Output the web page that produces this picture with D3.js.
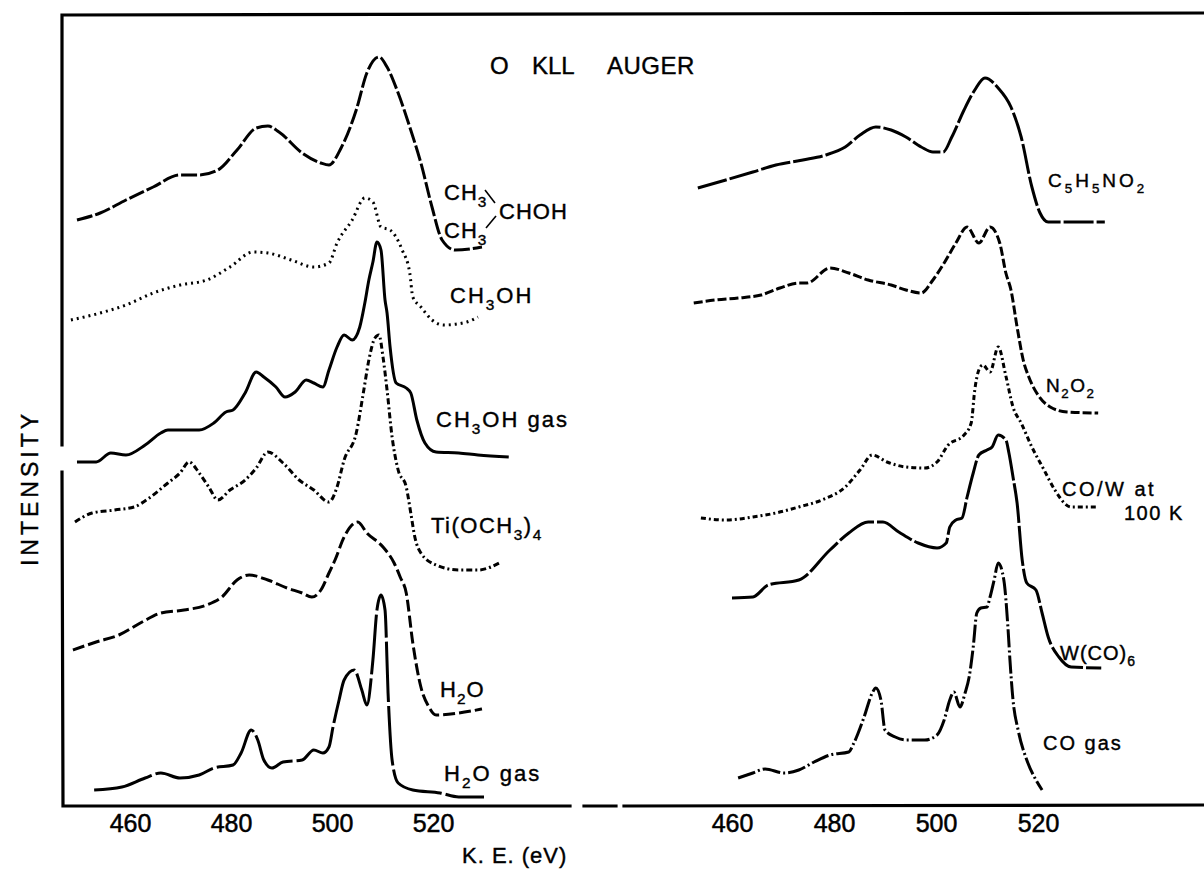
<!DOCTYPE html>
<html><head><meta charset="utf-8">
<script src="https://cdn.jsdelivr.net/npm/d3@7"></script>
<style>body{margin:0;background:#fff}svg{display:block}</style>
</head><body>
<svg id="c" width="1204" height="870"></svg>
<script>
// ---- tick labels ----
const tickValsLeft = [460, 480, 500, 520];
const tickValsRight = [460, 480, 500, 520];

// ---- spectra (kinetic energy eV, intensity arb. units incl. vertical offset) ----
const ipaE = [449.5,454.1,459.2,464.6,469.9,473.7,477.4,481.2,485.0,487.3,489.5,494.1,497.8,499.4,501.8,504.8,506.9,509.3,510.9,513.1,515.4,517.6,519.8,521.8,524.4,529.7];
const ipaI = [586,593,606,619,631,631,636,656,678,680,674,653,643,641,658,696,733,749,739,713,679,643,599,566,556,559];

const meohE = [448.3,454.1,459.2,464.6,469.9,475.2,479.8,484.4,487.3,491.9,496.4,499.4,501.0,504.0,506.5,508.1,509.7,511.5,513.9,515.4,516.0,517.6,519.8,522.2,526.7,528.9];
const meohI = [486,493,501,513,521,526,539,554,553,546,539,543,563,586,608,604,579,576,556,533,509,499,486,481,484,489];

const meohGasE = [449.5,453.3,456.2,459.2,463.0,466.1,467.5,473.7,476.6,479.0,480.4,482.8,485.0,486.5,488.9,490.7,492.7,494.9,496.4,498.2,499.4,501.0,502.4,504.0,505.5,506.5,507.3,508.1,508.9,509.7,510.5,510.9,511.5,512.7,514.7,515.6,516.8,518.4,520.6,525.1,528.9,535.0];
const meohGasI = [344,344,353,351,361,373,376,376,383,394,396,413,434,429,419,409,414,426,423,419,436,459,471,466,479,503,526,544,564,556,506,493,459,423,418,413,386,363,354,353,351,349];

const tiE = [449.1,452.5,457.0,460.8,463.8,467.5,469.9,471.7,473.7,475.6,477.4,479.8,482.8,485.0,487.3,490.3,493.5,496.4,499.4,501.0,502.4,504.8,506.3,507.3,508.5,509.3,510.1,510.9,511.9,513.1,514.7,515.6,516.4,517.6,520.6,525.1,528.9,533.5];
const tiI = [284,293,296,299,308,323,333,344,333,319,306,316,326,338,354,343,326,316,304,319,346,373,416,446,468,471,449,416,369,336,319,293,269,253,241,236,236,244];

const h2oE = [448.7,453.3,457.8,462.4,466.1,470.7,475.2,478.2,481.2,483.6,487.3,491.1,494.1,496.0,497.8,499.4,500.6,502.4,505.1,506.9,510.1,512.3,513.5,514.7,516.0,517.6,519.2,520.6,525.1,529.7];
const h2oI = [156,164,171,184,193,196,201,209,226,231,226,218,213,209,216,233,246,269,284,273,259,243,229,213,163,119,99,91,93,97];

const h2oGasE = [452.9,458.4,463.0,466.1,469.9,473.7,476.6,480.4,482.0,484.0,485.3,486.5,488.1,490.3,494.1,496.4,498.2,499.4,500.2,501.4,502.4,504.4,505.9,506.9,508.1,508.9,509.7,510.5,511.1,511.9,513.1,516.0,521.4,525.1,530.1];
const h2oGasI = [16,19,28,33,28,31,38,41,53,76,66,46,38,44,46,56,53,59,79,106,126,136,116,101,146,196,211,196,113,46,23,16,13,9,9];

const c5E = [453.3,458.8,464.1,468.6,473.9,478.4,482.2,485.1,488.2,491.2,494.1,497.1,499.4,501.4,503.1,505.5,507.6,509.6,512.2,514.7,516.7,518.8,520.4,522.0,527.3,533.1];
const c5I = [618,626,634,641,646,651,659,671,679,676,669,659,654,654,669,696,716,728,718,699,669,619,593,584,584,584];

const noE = [452.5,456.7,461.2,465.7,469.4,473.1,474.7,479.2,482.9,486.7,491.2,494.1,497.1,499.4,501.6,503.9,506.1,508.4,510.6,512.5,513.7,514.7,515.9,517.1,518.2,520.0,522.4,525.7,531.8];
const noI = [503,506,508,511,518,523,523,538,533,526,521,516,513,526,543,563,579,563,579,563,533,516,479,446,429,411,399,394,393];

const cowE = [453.9,458.8,464.1,468.6,473.1,477.6,482.2,485.1,487.5,490.4,494.1,497.8,500.2,502.4,505.5,506.9,507.6,508.4,509.2,510.6,512.2,513.7,515.1,516.7,518.8,521.2,523.3,526.5,531.8];
const cowI = [288,286,289,293,299,306,319,336,351,344,339,338,344,361,371,383,416,436,441,434,459,430,399,383,359,336,316,299,299];

const wcoE = [460.0,464.1,467.1,473.1,479.2,482.9,486.7,489.6,492.7,496.5,500.2,502.0,502.7,503.9,505.1,506.1,507.3,508.4,510.0,511.0,512.2,513.7,514.3,515.1,515.9,516.9,517.8,519.6,520.8,522.0,524.1,526.5,532.4];
const wcoI = [208,209,221,226,256,273,284,284,274,263,258,263,279,286,288,309,333,351,356,359,371,366,353,329,303,246,223,216,193,169,149,139,138];

const coGasE = [461.2,464.1,466.5,470.2,473.1,476.1,479.2,482.9,483.9,485.9,487.5,488.2,489.2,490.0,492.0,494.1,497.8,500.2,501.6,502.7,503.5,504.7,505.7,506.5,507.3,508.0,508.8,510.0,510.6,511.4,512.2,513.3,514.1,514.5,515.1,516.1,517.8,519.6,520.8];
const coGasI = [28,33,37,33,36,44,51,54,63,89,113,118,106,76,69,66,66,71,86,106,114,99,113,129,159,193,198,199,209,226,243,226,179,146,106,76,46,26,16];

// ---- chart ----
const svg = d3.select("#c");
const FONT = "'Liberation Sans', Arial, sans-serif";
svg.append("rect").attr("width",1204).attr("height",870).attr("fill","#fff");

const xL = d3.scaleLinear().domain([460,520]).range([130,433]);
const xR = d3.scaleLinear().domain([460,520]).range([732,1038]);
const y  = d3.scaleLinear().domain([0,792]).range([806,14]);

// frame
const fr = svg.append("g").attr("stroke","#000").attr("stroke-width",3.2).attr("fill","none").attr("stroke-linecap","square");
fr.append("path").attr("d","M62,445 L62,15 L1204,13");
fr.append("path").attr("d","M62,472 L63,806 L570,806");
fr.append("path").attr("d","M584,806 L616,806");
fr.append("path").attr("d","M624,806 L1204,805");

// axes (tick labels only)
function axis(scale, vals){
  const g = svg.append("g").attr("transform","translate(0,806)")
    .call(d3.axisBottom(scale).tickValues(vals).tickSize(0).tickPadding(8).tickFormat(d3.format("d")));
  g.select(".domain").remove();
  g.selectAll("text").attr("font-size",25).attr("font-family",FONT).attr("fill","#000")
    .attr("stroke","#000").attr("stroke-width",0.5);
}
axis(xL, tickValsLeft);
axis(xR, tickValsRight);

const series = [
  {E: ipaE, I: ipaI, x: xL, dash: "16,3"},
  {E: meohE, I: meohI, x: xL, dash: "2,4"},
  {E: meohGasE, I: meohGasI, x: xL, dash: null},
  {E: tiE, I: tiI, x: xL, dash: "6,3,2,3"},
  {E: h2oE, I: h2oI, x: xL, dash: "12,4"},
  {E: h2oGasE, I: h2oGasI, x: xL, dash: "60,4"},
  {E: c5E, I: c5I, x: xR, dash: "30,3"},
  {E: noE, I: noI, x: xR, dash: "9,3"},
  {E: cowE, I: cowI, x: xR, dash: "5,3,2,3"},
  {E: wcoE, I: wcoI, x: xR, dash: "40,3"},
  {E: coGasE, I: coGasI, x: xR, dash: "18,3,2,3"}
];
series.forEach(s => {
  const pts = s.E.map((e,i) => [e, s.I[i]]);
  const line = d3.line().x(d => s.x(d[0])).y(d => y(d[1])).curve(d3.curveMonotoneX);
  svg.append("path").datum(pts).attr("d", line)
    .attr("fill","none").attr("stroke","#000").attr("stroke-width",3)
    .attr("stroke-linejoin","round")
    .attr("stroke-dasharray", s.dash);
});

// text helper: parts = [[text, sub?], ...]
function label(x, yy, parts, size, ls){
  const t = svg.append("text").attr("x",x).attr("y",yy)
    .attr("font-family",FONT).attr("font-size",size).attr("fill","#000")
    .attr("stroke","#000").attr("stroke-width",0.4)
    .attr("letter-spacing", ls||0);
  let sub = false;
  parts.forEach(p => {
    const s = p[1];
    const ts = t.append("tspan").text(p[0]);
    if (s && !sub) { ts.attr("dy", size*0.32).attr("font-size", size*0.7); }
    else if (s && sub) { ts.attr("font-size", size*0.7); }
    else if (!s && sub) { ts.attr("dy", -size*0.32); }
    sub = s;
  });
  return t;
}

// title
label(490, 74, [["O"]], 24, 0);
label(532, 74, [["KLL"]], 24, 0);
label(607, 74, [["AUGER"]], 24, 0.5);
// axis title
label(462, 863, [["K. E. (eV)"]], 22, 1);
svg.append("text").attr("transform","translate(38,488) rotate(-90)")
  .attr("text-anchor","middle").attr("font-family",FONT).attr("font-size",23)
  .attr("stroke","#000").attr("stroke-width",0.4)
  .attr("letter-spacing",4).text("INTENSITY");

// left labels
label(444, 200, [["CH"],["3",true]], 22, 1);
label(444, 238, [["CH"],["3",true]], 22, 1);
label(499, 219, [["CHOH"]], 22, 1);
// little connector strokes between CH3 groups and CHOH
svg.append("path").attr("d","M485,190 L495,203").attr("stroke","#000").attr("stroke-width",1.6);
svg.append("path").attr("d","M486,228 L496,216").attr("stroke","#000").attr("stroke-width",1.6);
label(450, 303, [["CH"],["3",true],["OH"]], 22, 2);
label(436, 427, [["CH"],["3",true],["OH  gas"]], 22, 2);
label(431, 533, [["Ti(OCH"],["3",true],[")"],["4",true]], 22, 1.5);
label(440, 697, [["H"],["2",true],["O"]], 22, 1);
label(444, 781, [["H"],["2",true],["O  gas"]], 22, 2);

// right labels
label(1048, 187, [["C"],["5",true],["H"],["5",true],["NO"],["2",true]], 19, 3);
label(1046, 392, [["N"],["2",true],["O"],["2",true]], 19, 1.5);
label(1062, 496, [["CO/W at"]], 20, 2.5);
label(1124, 520, [["100 K"]], 20, 1.5);
label(1060, 660, [["W(CO)"],["6",true]], 20, 1);
label(1043, 750, [["CO  gas"]], 20, 2);
</script>
</body></html>
